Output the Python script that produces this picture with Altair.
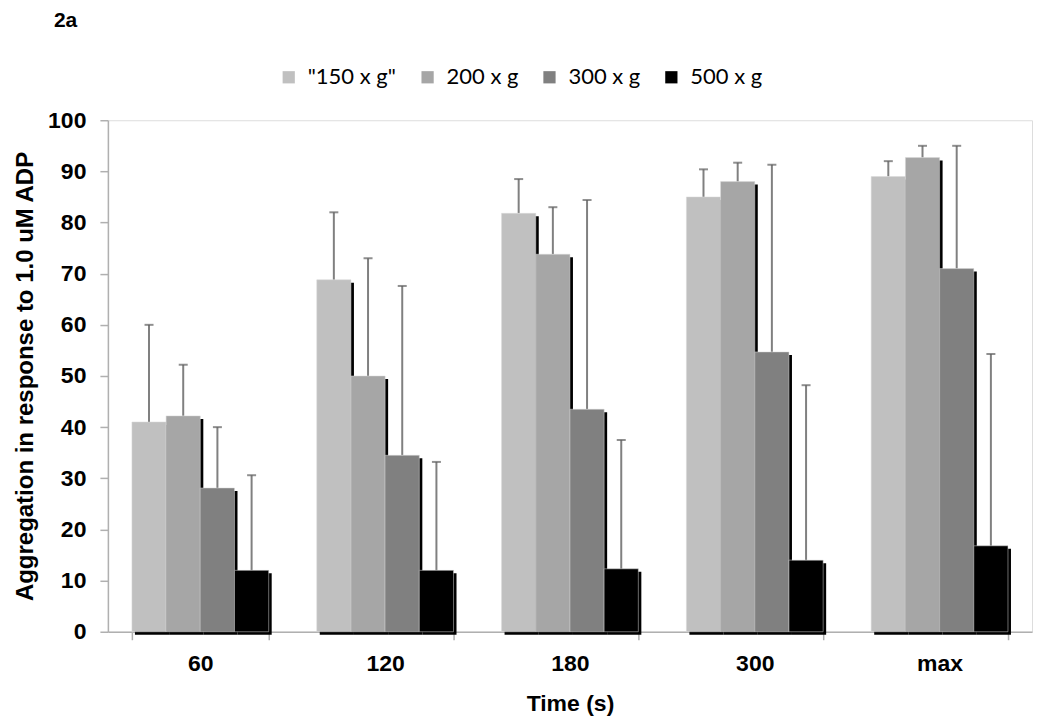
import altair as alt
import pandas as pd

times = ["60", "120", "180", "300", "max"]
groups = ['"150 x g"', "200 x g", "300 x g", "500 x g"]
colors = ["#c0c0c0", "#a6a6a6", "#808080", "#000000"]

mean_150 = [41.0, 68.8, 81.8, 85.0, 89.0]
mean_200 = [42.2, 50.0, 73.8, 88.0, 92.7]
mean_300 = [28.1, 34.5, 43.5, 54.7, 71.0]
mean_500 = [12.0, 12.0, 12.3, 14.0, 16.8]

upper_150 = [60.0, 82.0, 88.5, 90.4, 92.0]
upper_200 = [52.2, 73.0, 83.0, 91.7, 95.0]
upper_300 = [40.0, 67.6, 84.4, 91.3, 95.0]
upper_500 = [30.6, 33.2, 37.5, 48.2, 54.3]

means = [mean_150, mean_200, mean_300, mean_500]
uppers = [upper_150, upper_200, upper_300, upper_500]

rows = []
for g, m, u in zip(groups, means, uppers):
    for t, mv, uv in zip(times, m, u):
        rows.append({"time": t, "group": g, "mean": mv, "upper": uv})
df = pd.DataFrame(rows)

W, H = 925, 512
BAND = 136.9  # bandwidth of time band
SH = 3  # shadow offset
LABEL_SIZE = 23

x_axis = alt.Axis(
    title="Time (s)",
    labelAngle=0,
    tickBand="extent",
    grid=False,
    labelFont="Liberation Sans",
    labelFontWeight="bold",
    labelFontSize=LABEL_SIZE,
    labelColor="#000000",
    labelPadding=13,
    tickSize=8,
    tickColor="#b0b0b0",
    tickWidth=1.5,
    domainColor="#b0b0b0",
    domainWidth=1.5,
    titleFont="Liberation Sans",
    titleFontWeight="bold",
    titleFontSize=23,
    titleColor="#000000",
    titlePadding=17,
)

y_axis = alt.Axis(
    title="Aggregation in response to 1.0 uM ADP",
    values=list(range(0, 101, 10)),
    grid=False,
    labelFont="Liberation Sans",
    labelFontWeight="bold",
    labelFontSize=LABEL_SIZE,
    labelColor="#000000",
    labelPadding=14,
    tickSize=8,
    tickColor="#b0b0b0",
    tickWidth=1.5,
    domainColor="#b0b0b0",
    domainWidth=1.5,
    titleFont="Liberation Sans",
    titleFontWeight="bold",
    titleFontSize=24,
    titleColor="#000000",
    titlePadding=10,
)

x_enc = alt.X("time:N", sort=times,
              scale=alt.Scale(paddingInner=0.26, paddingOuter=0.13), axis=x_axis)
y_scale = alt.Scale(domain=[0, 100], nice=False)


def xoff(shift=0):
    return alt.XOffset("group:N", sort=groups,
                       scale=alt.Scale(range=[shift, BAND + shift], paddingInner=0, paddingOuter=0))


base = alt.Chart(df)

shadow = base.mark_bar(color="#000000", yOffset=SH).encode(
    x=x_enc,
    xOffset=xoff(SH),
    y=alt.Y("mean:Q", scale=y_scale, axis=y_axis),
)

bars = base.mark_bar(stroke="#d8d8d8", strokeWidth=0.5).encode(
    x=x_enc,
    xOffset=xoff(0),
    y=alt.Y("mean:Q", scale=y_scale, axis=y_axis),
    color=alt.Color(
        "group:N",
        sort=groups,
        scale=alt.Scale(domain=groups, range=colors),
        legend=alt.Legend(
            title=None,
            orient="none",
            direction="horizontal",
            legendX=170,
            legendY=-54,
            symbolType="square",
            symbolSize=150,
            symbolStrokeWidth=0,
            labelFont="Lato",
            labelFontSize=22,
            labelColor="#000000",
            labelOffset=8,
            columnPadding=20,
        ),
    ),
)

err_rule = base.mark_rule(color="#808080", strokeWidth=2).encode(
    x=x_enc,
    xOffset=xoff(0),
    y=alt.Y("mean:Q", scale=y_scale, axis=y_axis),
    y2=alt.Y2("upper:Q"),
)

err_cap = base.mark_tick(color="#606060", thickness=2, size=9).encode(
    x=x_enc,
    xOffset=xoff(0),
    y=alt.Y("upper:Q", scale=y_scale, axis=y_axis),
)

chart = (
    alt.layer(shadow, err_rule, bars, err_cap)
    .resolve_scale(xOffset="independent")
    .properties(
        width=W,
        height=H,
        autosize=alt.AutoSizeParams(type="none"),
        padding={"left": 100, "top": 112, "right": 10, "bottom": 90},
        title=alt.TitleParams(
            "2a",
            anchor="start",
            frame="group",
            font="Liberation Sans",
            fontWeight="bold",
            fontSize=21,
            color="#000000",
            dx=-54,
            dy=-31,
        ),
    )
    .configure_view(stroke="transparent", strokeWidth=0)
    .configure_axis(labelFontSize=LABEL_SIZE, labelFont="Liberation Sans", labelFontWeight="bold")
    .configure(background="#ffffff")
)

chart.save("out.html", embed_options={"renderer": "svg", "actions": False})
